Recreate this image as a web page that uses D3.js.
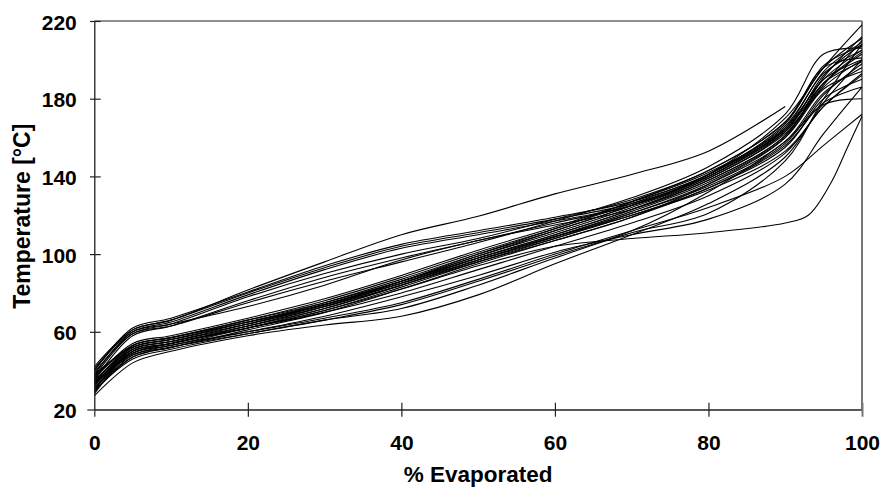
<!DOCTYPE html>
<html>
<head>
<meta charset="utf-8">
<script src="https://cdn.jsdelivr.net/npm/d3@7/dist/d3.min.js"></script>
<style>
  html, body { margin: 0; padding: 0; background: #fff; }
  svg { display: block; }
  text { font-family: "Liberation Sans", Arial, Helvetica, sans-serif; font-weight: bold; fill: #000; }
</style>
</head>
<body>
<svg id="chart" width="883" height="487"></svg>
<script>
// ---- data ----
const pct = [0, 5, 10, 20, 30, 40, 50, 60, 70, 80, 90, 95, 100];
const xTicks = [0, 20, 40, 60, 80, 100];
const yTicks = [20, 60, 100, 140, 180, 220];

// top curve (ends at 90 %)
const topPct = [0, 5, 10, 20, 30, 40, 50, 60, 70, 80, 90];
const topCurve = [40, 61, 66, 81.5, 96, 110, 119.5, 131, 141, 153, 176];

// upper group
const u1 = [42, 61, 66, 80, 93, 104, 111, 118, 126, 140, 164, 190, 200];
const u2 = [40, 62, 67, 80.5, 94, 105, 112, 119, 127, 141, 166, 193, 205];
const u3 = [38, 60, 65, 79, 92, 103, 110, 117, 125, 140, 165, 194, 209];
const u4 = [37, 59, 64, 78, 90, 100, 108, 118, 128, 143, 168, 196, 211];
const u5 = [35, 58, 63, 76, 88, 98, 107, 116, 125, 141, 167, 197, 207];
const u6 = [41, 60, 64, 73, 84, 97, 107, 115, 123, 138, 161, 188, 199];
const u7 = [39, 59, 63, 75, 86, 96, 106, 117, 129, 145, 172, 203, 206];

// main band
const m1 = [36, 54, 58, 67, 77, 89, 102, 114, 127, 142, 165, 190, 205];
const m2 = [34, 53, 57, 66, 76, 88, 101, 113, 126, 141, 164, 188, 203];
const m3 = [32, 52, 56, 65, 75, 87, 100, 112, 125, 140, 163, 187, 210];
const m4 = [30, 51, 55, 64, 74, 86, 99, 111, 124, 139, 162, 186, 200];
const m5 = [38, 52, 56, 65, 74, 85, 98, 110, 123, 138, 161, 191, 212];
const m6 = [28, 50, 54, 63, 73, 85, 98, 110, 123, 139, 163, 192, 208];
const m7 = [35, 51, 55, 63, 72, 84, 97, 109, 122, 137, 160, 185, 194];
const m8 = [33, 50, 54, 62, 71, 83, 96, 108, 121, 136, 158, 183, 196];
const m9 = [31, 49, 53, 62, 72, 84, 97, 109, 121, 135, 157, 182, 198];
const m10 = [37, 53, 57, 66, 75, 86, 98, 109, 120, 134, 155, 180, 190];
const m11 = [29, 48, 52, 61, 70, 82, 95, 107, 119, 134, 156, 178, 186];
const m12 = [34, 52, 56, 64, 73, 84, 96, 107, 119, 136, 160, 188, 204];
const m13 = [30, 50, 54, 63, 73, 86, 100, 113, 127, 143, 168, 196, 201];
const m14 = [36, 53, 57, 65, 74, 85, 97, 108, 120, 133, 153, 176, 193];
const m15 = [33, 51, 55, 64, 74, 86, 99, 112, 125, 141, 170, 196, 218];

// lower group
const l1 = [27, 44, 50, 58, 63.5, 68, 79, 95, 110, 126, 150, 178, 200];
const l2 = [30, 46, 51, 59, 66, 72, 84, 98, 111, 121, 148, 180, 208];
const l3 = [33, 48, 53, 60, 67, 75, 87, 100, 112, 124, 140, 156, 172];
const l4 = [29, 47, 52, 60, 68, 78, 89, 101, 110, 118, 136, 162, 186];
const l5 = [31, 47, 52, 59, 66, 74, 86, 99, 112, 132, 158, 177, 180];
const l6 = [32, 49, 54, 62, 70, 80, 92, 104, 116, 130, 152, 176, 192];

// special curve: long plateau then sharp rise at the end
const sPct = [0, 5, 10, 20, 30, 40, 50, 60, 70, 80, 90, 93, 96, 98, 100];
const sCurve = [34, 49, 54, 62, 71, 82, 94, 104, 108, 111, 116, 120, 137, 154, 171];

const seriesList = [
  { p: topPct, v: topCurve },
  { p: pct, v: u1 }, { p: pct, v: u2 }, { p: pct, v: u3 }, { p: pct, v: u4 },
  { p: pct, v: u5 }, { p: pct, v: u6 }, { p: pct, v: u7 },
  { p: pct, v: m1 }, { p: pct, v: m2 }, { p: pct, v: m3 }, { p: pct, v: m4 },
  { p: pct, v: m5 }, { p: pct, v: m6 }, { p: pct, v: m7 }, { p: pct, v: m8 },
  { p: pct, v: m9 }, { p: pct, v: m10 }, { p: pct, v: m11 }, { p: pct, v: m12 },
  { p: pct, v: m13 }, { p: pct, v: m14 }, { p: pct, v: m15 },
  { p: pct, v: l1 }, { p: pct, v: l2 }, { p: pct, v: l3 }, { p: pct, v: l4 },
  { p: pct, v: l5 }, { p: pct, v: l6 },
  { p: sPct, v: sCurve }
];

// ---- layout ----
const svg = d3.select("#chart");
const mLeft = 94.3, mRight = 862, mTop = 21, mBottom = 409.5;
const x = d3.scaleLinear().domain([0, 100]).range([mLeft, mRight]);
const y = d3.scaleLinear().domain([20, 220]).range([mBottom, mTop]);

// plot frame (top + right)
svg.append("line").attr("x1", mLeft).attr("x2", mRight).attr("y1", mTop).attr("y2", mTop)
  .attr("stroke", "#222").attr("stroke-width", 1.2);
svg.append("line").attr("x1", mRight).attr("x2", mRight).attr("y1", mTop).attr("y2", mBottom)
  .attr("stroke", "#777").attr("stroke-width", 2);

// lines
const line = d3.line()
  .x(d => x(d[0])).y(d => y(d[1]))
  .curve(d3.curveCatmullRom.alpha(0.5));

const g = svg.append("g");
seriesList.forEach(s => {
  const pts = s.p.map((p, i) => [p, s.v[i]]);
  g.append("path").attr("d", line(pts))
    .attr("fill", "none").attr("stroke", "#000").attr("stroke-width", 1.1);
});

// axes
const yAxis = d3.axisLeft(y).tickValues(yTicks).tickSizeInner(4).tickSizeOuter(0).tickFormat(d3.format("d"));
const yg = svg.append("g").attr("transform", `translate(${mLeft},0)`).call(yAxis);
yg.select(".domain").attr("stroke", "#222").attr("stroke-width", 1.3);
yg.selectAll(".tick line").attr("x2", -4.3).attr("x1", 6.4).attr("stroke", "#222").attr("stroke-width", 1.2);
yg.selectAll(".tick text").attr("x", -17.5).attr("dy", null).attr("y", 8)
  .style("font-size", "21px").style("font-family", "'Liberation Sans', Arial, sans-serif").style("font-weight", "bold").attr("fill", "#000");
yg.selectAll(".tick").filter(d => d === 20).select("line").attr("x2", -7).attr("x1", 0);

const xAxis = d3.axisBottom(x).tickValues(xTicks).tickSizeOuter(0).tickFormat(d3.format("d"));
const xg = svg.append("g").attr("transform", `translate(0,${mBottom})`).call(xAxis);
xg.select(".domain").attr("stroke", "#222").attr("stroke-width", 1.3);
xg.selectAll(".tick line").attr("y1", -6.8).attr("y2", 7.2).attr("stroke", "#222").attr("stroke-width", 1.2);
xg.selectAll(".tick").filter(d => d === 0).select("line").attr("y1", 0);
xg.selectAll(".tick").filter(d => d === 100).select("line").attr("stroke", "#777").attr("stroke-width", 2);
xg.selectAll(".tick text").attr("dy", null).attr("y", 40)
  .style("font-size", "21px").style("font-family", "'Liberation Sans', Arial, sans-serif").style("font-weight", "bold").attr("fill", "#000");

// axis titles
svg.append("text").attr("x", (mLeft + mRight) / 2).attr("y", 481.5)
  .attr("text-anchor", "middle").style("font-size", "22.5px").text("% Evaporated");
svg.append("text").attr("transform", `translate(30,${(mTop + mBottom) / 2 + 1}) rotate(-90)`)
  .attr("text-anchor", "middle").style("font-size", "23px").text("Temperature [°C]");
</script>
</body>
</html>
